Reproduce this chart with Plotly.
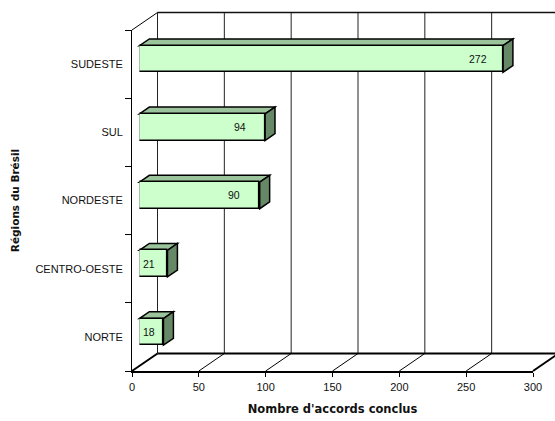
import plotly.graph_objects as go

# ---- data ----
categories = ["NORTE", "CENTRO-OESTE", "NORDESTE", "SUL", "SUDESTE"]
values = [18, 21, 90, 94, 272]
x_ticks = [0, 50, 100, 150, 200, 250, 300]
x_title = "Nombre d'accords conclus"
y_title = "Régions du Brésil"

# ---- geometry (layout styling) ----
FW, FH = 555, 421
ML, MR, MT, MB = 132, 22, 30, 50
W = FW - ML - MR
H = FH - MT - MB
XMAX = 300
NC = len(categories)
DX, DY = 25.5, 17.5          # wall depth offset in px
F0, F1 = 0.29, 0.68          # bar depth span (fraction of wall depth)
BW = 0.39                    # bar thickness (category units)

FRONT = "#CCFFCC"
TOP = "#9CC49C"
SIDE = "#668866"
FONT = "Liberation Sans, Arial, sans-serif"


def P(v, y, d):
    """data value v, category position y, depth fraction d -> paper coords"""
    return v / XMAX + d * DX / W, (y + 0.5) / NC + d * DY / H


def line(p, q, w=1, color="#000000"):
    return dict(type="line", xref="paper", yref="paper", x0=p[0], y0=p[1],
                x1=q[0], y1=q[1], line=dict(color=color, width=w), layer="below")


def poly(pts, fill):
    path = "M " + " L ".join(f"{x},{y}" for x, y in pts) + " Z"
    return dict(type="path", xref="paper", yref="paper", path=path,
                fillcolor=fill, line=dict(color="#000000", width=1.5), layer="below")


shapes = []
ylo, yhi = -0.5, NC - 0.5
# back wall gridlines
for t in x_ticks:
    shapes.append(line(P(t, ylo, 1), P(t, yhi, 1), 1, "#222222"))
# back wall top & floor back edge
shapes.append(line(P(0, yhi, 1), P(XMAX, yhi, 1), 1.5, "#111111"))
shapes.append(line(P(0, ylo, 1), P(XMAX, ylo, 1), 2))
# floor diagonals
for t in x_ticks:
    w = 2 if t in (x_ticks[0], x_ticks[-1]) else 1
    shapes.append(line(P(t, ylo, 0), P(t, ylo, 1), w))
# left wall top diagonal
shapes.append(line(P(0, yhi, 0), P(0, yhi, 1), 1))

# 3D faces of bars
for i, v in enumerate(values):
    yt, yb = i + BW / 2, i - BW / 2
    shapes.append(poly([P(0, yt, F0), P(v, yt, F0), P(v, yt, F1), P(0, yt, F1)], TOP))
    shapes.append(poly([P(v, yt, F0), P(v, yt, F1), P(v, yb, F1), P(v, yb, F0)], SIDE))

fig = go.Figure()
fig.add_trace(go.Bar(
    y=categories, x=values, orientation="h", xaxis="x2", yaxis="y2",
    width=BW, marker=dict(color=FRONT, line=dict(color="#000000", width=1.5)),
    hoverinfo="skip", showlegend=False,
))
# invisible trace to set main axes
fig.add_trace(go.Scatter(x=[None], y=categories, mode="markers", showlegend=False,
                         hoverinfo="skip"))

annotations = []
for c, v in zip(categories, values):
    if v > 40:
        annotations.append(dict(xref="x2", yref="y2", x=v - 19, y=c, text=str(v),
                                showarrow=False, xanchor="center",
                                font=dict(family=FONT, size=10.5, color="#111111")))
    else:
        annotations.append(dict(xref="x2", yref="y2", x=0, y=c, text=str(v),
                                showarrow=False, xanchor="left", xshift=2,
                                font=dict(family=FONT, size=10.5, color="#111111")))

a = F0 * DX / W
b = F0 * DY / H

fig.update_layout(
    width=FW, height=FH,
    margin=dict(l=ML, r=MR, t=MT, b=MB, pad=0, autoexpand=False),
    paper_bgcolor="white", plot_bgcolor="rgba(0,0,0,0)",
    shapes=shapes, annotations=annotations,
    font=dict(family=FONT, size=11, color="#111111"),
    xaxis=dict(range=[0, XMAX], tickvals=x_ticks, showgrid=False, zeroline=False,
               showline=True, linecolor="#000000", linewidth=2,
               ticks="outside", ticklen=4, tickcolor="#000000",
               ticklabelstandoff=1, automargin=False,
               title=dict(text=x_title, standoff=13,
                          font=dict(family="DejaVu Sans, sans-serif", size=11.5,
                                    weight="bold", color="#111111")),
               fixedrange=True),
    yaxis=dict(type="category", categoryorder="array", categoryarray=categories,
               range=[-0.5, NC - 0.5], showgrid=False, zeroline=False,
               showline=True, linecolor="#000000", linewidth=1,
               ticks="outside", ticklen=6, tickcolor="#000000", tickson="boundaries",
               ticklabelstandoff=6, automargin=False,
               title=dict(text=y_title, standoff=13,
                          font=dict(family="DejaVu Sans, sans-serif", size=10.5,
                                    weight="bold", color="#111111")),
               fixedrange=True),
    xaxis2=dict(domain=[a, 1], range=[0, XMAX * (1 - a)], anchor="y2", visible=False,
                fixedrange=True),
    yaxis2=dict(domain=[b, 1], type="category", categoryorder="array",
                categoryarray=categories, range=[-0.5, -0.5 + NC * (1 - b)],
                anchor="x2", visible=False, fixedrange=True),
    bargap=0,
)

fig.write_html("out.html")
